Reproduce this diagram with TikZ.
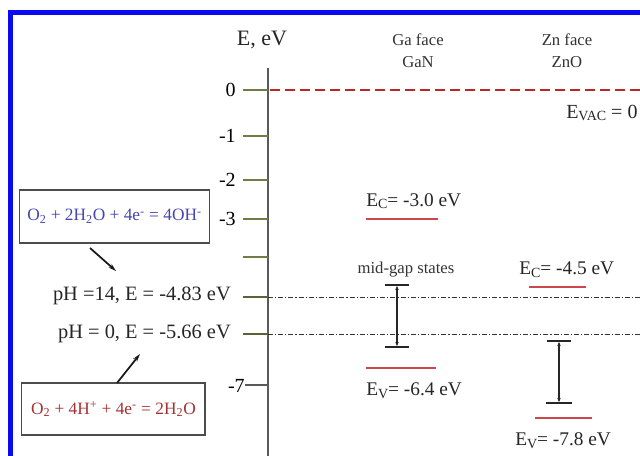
\documentclass[tikz,border=0pt]{standalone}
\usepackage{fontspec}
\setmainfont{Liberation Serif}
\usetikzlibrary{arrows.meta}
\definecolor{frameblue}{RGB}{10,10,240}
\definecolor{dashred}{RGB}{185,40,40}
\definecolor{levelred}{RGB}{205,70,75}
\definecolor{olivetick}{RGB}{110,125,70}
\definecolor{axisgray}{RGB}{90,90,90}
\definecolor{eqblue}{RGB}{70,70,175}
\definecolor{eqred}{RGB}{165,50,50}
\newcommand{\Elev}[1]{E\raisebox{-0.3ex}{\fontsize{10.5}{12}\selectfont #1}}
\tikzset{
  ticklab/.style={anchor=east, inner sep=0pt, font=\fontsize{15}{18}\selectfont},
  tickline/.style={olivetick, line width=0.9pt},
  phtick/.style={olivetick!80!black, line width=2.2pt},
  biglab/.style={inner sep=0pt, font=\fontsize{15.3}{18}\selectfont, text=black!85},
  smalllab/.style={inner sep=0pt, font=\fontsize{12.5}{15}\selectfont, text=black!80},
  levellab/.style={anchor=west, inner sep=0pt, font=\fontsize{14.5}{17}\selectfont, text=black!85},
  level/.style={levelred, line width=1.6pt},
  refline/.style={black!80, line width=0.6pt, dash pattern=on 3.75pt off 1.5pt on 0.9pt off 1.5pt},
  capline/.style={black!85, line width=1.9pt},
  gapline/.style={black!85, line width=1pt, {Stealth[length=3pt,width=2.6pt]}-{Stealth[length=3pt,width=2.6pt]}},
  eqbox/.style={draw=black!70, line width=1.1pt, inner sep=0pt, font=\fontsize{13}{15}\selectfont},
  pointer/.style={black!90, line width=1.3pt, -{Stealth[length=6pt,width=3.5pt]}}
}
\begin{document}
\begin{tikzpicture}[x=0.75pt,y=-0.75pt]
\useasboundingbox (0,0) rectangle (640,456);
\clip (0,0) rectangle (640,456);
\fill[white] (0,0) rectangle (640,456);
% frame
\draw[frameblue, line width=3.75pt] (10.5,12.5) rectangle (700,500);

% axis
\node[biglab, font=\fontsize{16.5}{19}\selectfont] (axlab) at (262,40) {E, eV};
\coordinate (axtop) at (268,68);
\coordinate (axbot) at (268,470);
\draw[axisgray, line width=1.1pt] (axtop) -- (axbot);

% ticks
\draw[tickline] (243,90) -- (268,90);
\node[ticklab] (t0) at (236,90) {0};
\draw[tickline] (243,136) -- (268,136);
\node[ticklab] (t1) at (236,136) {-1};
\draw[tickline] (243,180) -- (268,180);
\node[ticklab] (t2) at (236,180) {-2};
\draw[tickline] (243,219) -- (268,219);
\node[ticklab] (t3) at (236,219) {-3};
\draw[tickline] (243,257) -- (268,257);
\draw[axisgray, line width=0.9pt] (245,385) -- (268,385);
\node[ticklab] (t7) at (245,386) {-7};
\draw[phtick] (243,297) -- (268,297);
\draw[phtick] (243,334) -- (268,334);

% vacuum level
\draw[dashred, line width=2pt, dash pattern=on 7.5pt off 3.75pt] (270,90) -- (645,90);
\node[levellab, font=\fontsize{15}{18}\selectfont] (evac) at (566,113) {\Elev{VAC} = 0};

% reference lines
\draw[refline] (268,297) -- (645,297);
\draw[refline] (268,334) -- (645,334);

% headings
\node[smalllab] (ga1) at (418,40) {Ga face};
\node[smalllab] (ga2) at (418,62) {GaN};
\node[smalllab] (zn1) at (567,40) {Zn face};
\node[smalllab] (zn2) at (567,62) {ZnO};

% GaN levels
\draw[level] (366,219) -- (438,219);
\node[levellab] (ecgan) at (366,201) {\Elev{C}= -3.0 eV};
\draw[level] (366,368) -- (436,368);
\node[levellab] (evgan) at (366,391) {\Elev{V}= -6.4 eV};
\node[smalllab] (mid) at (406,270) {mid-gap states};
\draw[capline] (385,285) -- (409,285);
\draw[capline] (385,347) -- (409,347);
\coordinate (g1) at (397,286);
\coordinate (g2) at (397,346);
\draw[gapline] (g1) -- (g2);

% ZnO levels
\draw[level] (529,287) -- (586,287);
\node[levellab] (eczno) at (519,270) {\Elev{C}= -4.5 eV};
\draw[level] (535,418) -- (592,418);
\node[levellab] (evzno) at (515,441) {\Elev{V}= -7.8 eV};
\draw[capline] (547,341) -- (571,341);
\draw[capline] (546,403) -- (572,403);
\coordinate (z1) at (559,342);
\coordinate (z2) at (559,402);
\draw[gapline] (z1) -- (z2);

% pH labels
\node[biglab, anchor=east] (ph14) at (231,296) {pH =14, E = -4.83 eV};
\node[biglab, anchor=east] (ph0) at (231,334) {pH = 0, E = -5.66 eV};

% equation boxes
\node[eqbox, text=eqblue, minimum width=142.5pt, minimum height=39.75pt] (eq1) at (114.5,216.5)
  {\raisebox{2pt}{O\textsubscript{2} + 2H\textsubscript{2}O + 4e\textsuperscript{-} = 4OH\textsuperscript{-}}};
\node[eqbox, text=eqred, minimum width=137.5pt, minimum height=39pt] (eq2) at (113.4,409)
  {\raisebox{1.5pt}{O\textsubscript{2} + 4H\textsuperscript{+} + 4e\textsuperscript{-} = 2H\textsubscript{2}O}};
\coordinate (p1s) at (90,248);
\coordinate (p1e) at (116,271);
\draw[pointer] (p1s) -- (p1e);
\coordinate (p2s) at (117,383);
\coordinate (p2e) at (140,354);
\draw[pointer] (p2s) -- (p2e);
\end{tikzpicture}
\end{document}
